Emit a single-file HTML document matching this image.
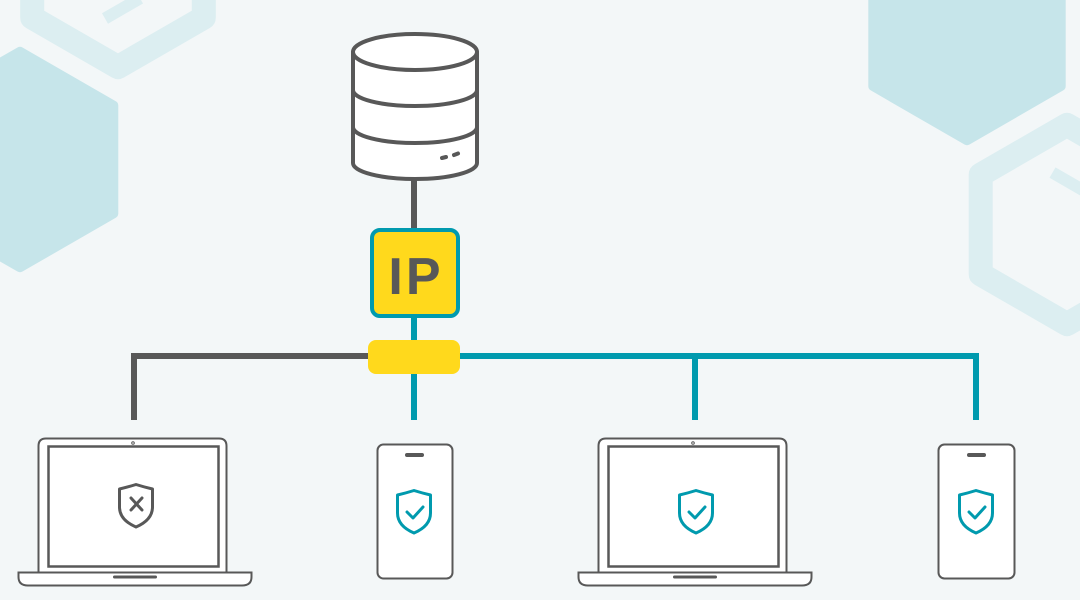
<!DOCTYPE html>
<html>
<head>
<meta charset="utf-8">
<style>
  html,body{margin:0;padding:0;background:#F3F7F8;}
  svg{display:block;}
</style>
</head>
<body>
<svg width="1080" height="600" viewBox="0 0 1080 600" xmlns="http://www.w3.org/2000/svg">
  <rect width="1080" height="600" fill="#F3F7F8"/>

  <!-- background hexagons -->
  <polygon points="20,51.8 113.3,105.6 113.3,213.4 20,267.2 -73.3,213.4 -73.3,105.6" fill="#C6E5EA" stroke="#C6E5EA" stroke-width="10" stroke-linejoin="round"/>
  <polygon points="967,-76.2 1060.7,-22.1 1060.7,86.1 967,140.2 873.3,86.1 873.3,-22.1" fill="#C6E5EA" stroke="#C6E5EA" stroke-width="10" stroke-linejoin="round"/>
  <polygon points="118,-131.1 203.8,-81.6 203.8,17.6 118,67.1 32.2,17.6 32.2,-81.6" fill="none" stroke="#DCEEF1" stroke-width="24" stroke-linejoin="round"/>
  <line x1="105" y1="18.5" x2="140" y2="-1.7" stroke="#DCEEF1" stroke-width="12"/>
  <polygon points="1067,124.9 1153.3,174.7 1153.3,274.3 1067,324.1 980.7,274.3 980.7,174.7" fill="none" stroke="#DCEEF1" stroke-width="24" stroke-linejoin="round"/>
  <line x1="1052.5" y1="172.6" x2="1100" y2="200" stroke="#DCEEF1" stroke-width="12"/>

  <!-- connectors -->
  <line x1="414" y1="176" x2="414" y2="232" stroke="#585858" stroke-width="6"/>
  <line x1="414" y1="314" x2="414" y2="420" stroke="#009AAE" stroke-width="6"/>
  <polyline points="134,420 134,356 372,356" fill="none" stroke="#585858" stroke-width="6" stroke-linejoin="miter"/>
  <polyline points="456,356 976,356 976,420" fill="none" stroke="#009AAE" stroke-width="6" stroke-linejoin="miter"/>
  <line x1="695" y1="356" x2="695" y2="420" stroke="#009AAE" stroke-width="6"/>

  <!-- yellow pill -->
  <rect x="368" y="340" width="92" height="34" rx="8" fill="#FFD91C"/>

  <!-- IP box -->
  <rect x="372" y="230" width="86" height="86" rx="8" fill="#FFD91C" stroke="#009AAE" stroke-width="4"/>
  <text x="416" y="294" text-anchor="middle" font-family="'Liberation Sans', sans-serif" font-weight="bold" font-size="52" letter-spacing="3" fill="#585858">IP</text>

  <!-- database -->
  <g fill="#fff" stroke="#585858" stroke-width="4" stroke-linecap="round" stroke-linejoin="round">
    <path d="M353,52 L353,163 A62,16 0 0 0 477,163 L477,52"/>
    <ellipse cx="415" cy="52" rx="62" ry="18"/>
    <path d="M353,90 A62,16 0 0 0 477,90" fill="none"/>
    <path d="M353,127 A62,16 0 0 0 477,127" fill="none"/>
    <line x1="442" y1="158" x2="446" y2="157"/>
    <line x1="454" y1="155" x2="458" y2="153.5"/>
  </g>

  <!-- laptop 1 -->
  <g stroke="#585858" fill="#fff">
    <path d="M38.5,572 L38.5,446 Q38.5,438.5 46,438.5 L219,438.5 Q226.5,438.5 226.5,446 L226.5,572" stroke-width="2"/>
    <rect x="48.5" y="446.5" width="170" height="120" stroke-width="2.5"/>
    <circle cx="133" cy="443" r="1.3" stroke-width="1"/>
    <path d="M18.5,572.5 L251.5,572.5 L251.5,577 Q251.5,585.5 242,585.5 L28,585.5 Q18.5,585.5 18.5,577 Z" stroke-width="2"/>
    <rect x="113" y="575.5" width="44" height="3" rx="1.5" fill="#585858" stroke="none"/>
  </g>
  <path d="M119.5,489 Q128,487 136,484.5 Q144,487 152.5,489 L152.5,507 C152.5,518 143,524 136,527 C129,524 119.5,518 119.5,507 Z" fill="none" stroke="#585858" stroke-width="3" stroke-linejoin="round"/>
  <path d="M131,498 L142,510 M142,498 L131,510" stroke="#585858" stroke-width="3" stroke-linecap="round"/>

  <!-- phone 1 -->
  <rect x="377.5" y="444.5" width="75" height="134" rx="6" fill="#fff" stroke="#585858" stroke-width="2"/>
  <rect x="405" y="453" width="19" height="4" rx="2" fill="#585858"/>
  <path d="M397.5,495 Q406,493 414,490.5 Q422,493 430.5,495 L430.5,513 C430.5,524 421,530 414,533 C407,530 397.5,524 397.5,513 Z" fill="none" stroke="#009AAE" stroke-width="3" stroke-linejoin="round"/>
  <path d="M407,512 L413,518 L423,507" fill="none" stroke="#009AAE" stroke-width="3" stroke-linecap="round" stroke-linejoin="round"/>

  <!-- laptop 2 -->
  <g stroke="#585858" fill="#fff">
    <path d="M598.5,572 L598.5,446 Q598.5,438.5 606,438.5 L779,438.5 Q786.5,438.5 786.5,446 L786.5,572" stroke-width="2"/>
    <rect x="608.5" y="446.5" width="170" height="120" stroke-width="2.5"/>
    <circle cx="693" cy="443" r="1.3" stroke-width="1"/>
    <path d="M578.5,572.5 L811.5,572.5 L811.5,577 Q811.5,585.5 802,585.5 L588,585.5 Q578.5,585.5 578.5,577 Z" stroke-width="2"/>
    <rect x="673" y="575.5" width="44" height="3" rx="1.5" fill="#585858" stroke="none"/>
  </g>
  <path d="M679.5,495 Q688,493 696,490.5 Q704,493 712.5,495 L712.5,513 C712.5,524 703,530 696,533 C689,530 679.5,524 679.5,513 Z" fill="none" stroke="#009AAE" stroke-width="3" stroke-linejoin="round"/>
  <path d="M689,512 L695,518 L705,507" fill="none" stroke="#009AAE" stroke-width="3" stroke-linecap="round" stroke-linejoin="round"/>

  <!-- phone 2 -->
  <rect x="938.5" y="444.5" width="76" height="134" rx="6" fill="#fff" stroke="#585858" stroke-width="2"/>
  <rect x="967" y="453" width="19" height="4" rx="2" fill="#585858"/>
  <path d="M959.5,495 Q968,493 976,490.5 Q984,493 992.5,495 L992.5,513 C992.5,524 983,530 976,533 C969,530 959.5,524 959.5,513 Z" fill="none" stroke="#009AAE" stroke-width="3" stroke-linejoin="round"/>
  <path d="M969,512 L975,518 L985,507" fill="none" stroke="#009AAE" stroke-width="3" stroke-linecap="round" stroke-linejoin="round"/>
</svg>
</body>
</html>
